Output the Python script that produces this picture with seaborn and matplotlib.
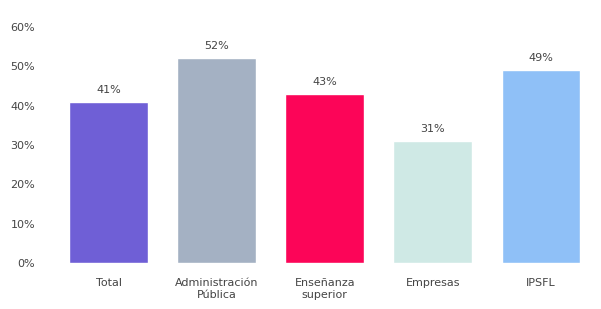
import pandas as pd
import seaborn as sns
import matplotlib.pyplot as plt
from matplotlib.ticker import PercentFormatter

# data
sectors = ["Total", "Administración\nPública", "Enseñanza\nsuperior", "Empresas", "IPSFL"]
shares = [41, 52, 43, 31, 49]
colors = ["#6f5fd6", "#a4b1c3", "#fc0558", "#cfe9e5", "#8fc0f7"]

df = pd.DataFrame({"Sector": sectors, "Porcentaje": shares})

sns.set_theme(style="white")
plt.rcParams['font.family'] = ['DejaVu Sans']

fig = plt.figure(figsize=(6.01, 3.09), dpi=100)
ax = fig.add_axes([0.091, 0.149, 0.899, 0.764])

sns.barplot(data=df, x="Sector", y="Porcentaje", hue="Sector", palette=colors,
            width=0.73, legend=False, ax=ax, saturation=1)

# value labels above bars
for bars in ax.containers:
    ax.bar_label(bars, labels=[f"{v:.0f}%" for v in bars.datavalues],
                 padding=5, fontsize=8, color="#444444")

ax.set_ylim(0, 60)
ax.set_yticks(range(0, 61, 10))
ax.yaxis.set_major_formatter(PercentFormatter(decimals=0))
ax.set_xlabel("")
ax.set_ylabel("")
ax.tick_params(axis="both", labelsize=8, colors="#444444", length=0)
ax.tick_params(axis="x", pad=11)
ax.tick_params(axis="y", pad=14)
sns.despine(left=True, bottom=True)

fig.savefig("out.png", dpi=100)
